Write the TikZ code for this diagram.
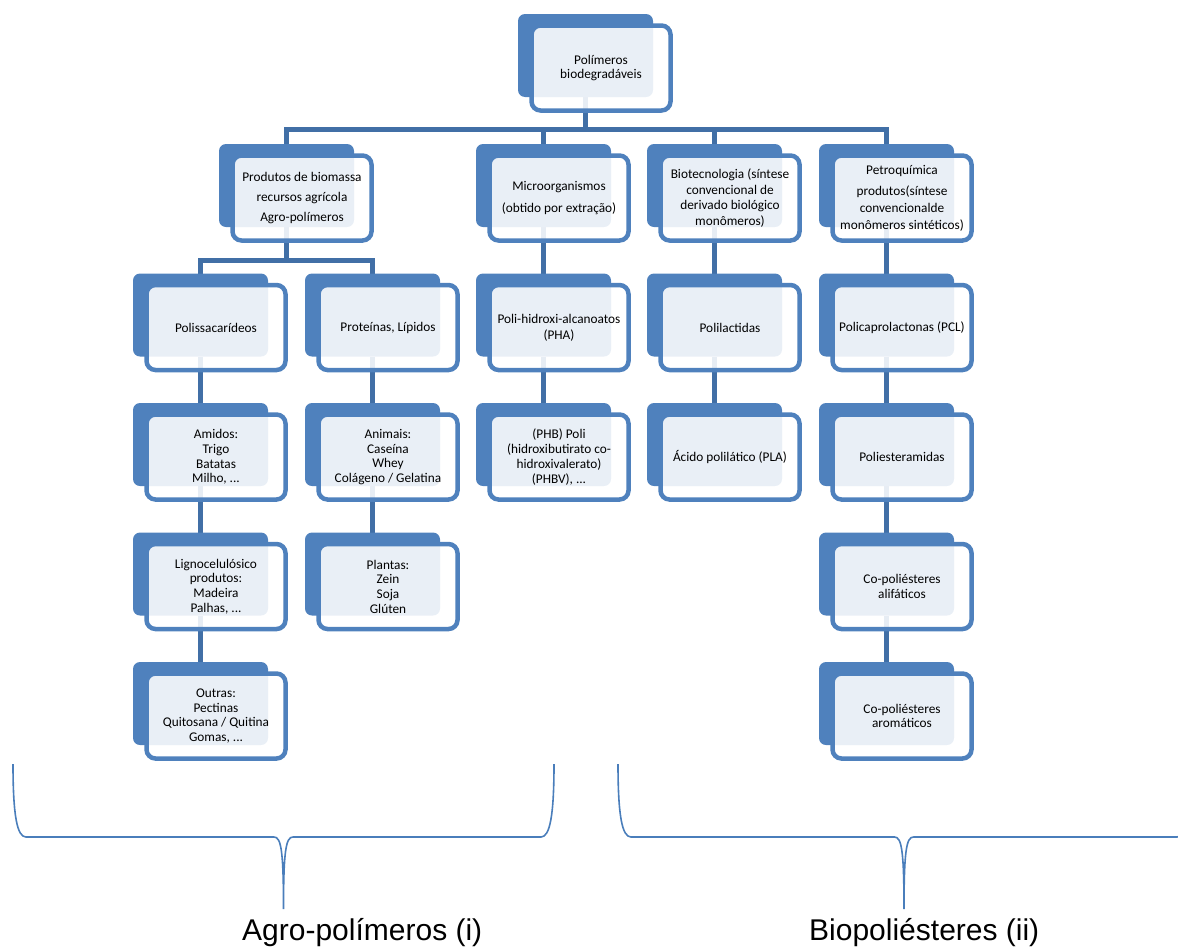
\documentclass[tikz,border=0pt]{standalone}
\usepackage{fontspec}
\setmainfont{Carlito}
\newfontfamily\rotulofont{Liberation Sans}
\usepackage{xcolor}
\usetikzlibrary{positioning, backgrounds}

\definecolor{azulcaixa}{HTML}{4F81BD}
\definecolor{azulliga}{HTML}{416FA6}
\definecolor{azulchave}{HTML}{4A7EBB}

% caixa dupla: fundo azul + frente translucida com o texto
\newcommand{\caixa}[3]{%
  \node[fundo, #2] (#1-f) {};
  \node[frente, xshift=15.5pt, yshift=-12.5pt] (#1) at (#1-f.center) {#3};
}

\begin{document}
\begin{tikzpicture}[
    x=1pt, y=1pt,
    node distance=46.5pt,
    fundo/.style={fill=azulcaixa, rounded corners=7pt, minimum width=135pt, minimum height=83pt, inner sep=0pt, outer sep=0pt},
    frente/.style={draw=azulcaixa, line width=4.5pt, fill=white, fill opacity=0.88, text opacity=1, rounded corners=9pt, minimum width=139pt, minimum height=85pt, inner sep=0pt, align=center, font=\fontsize{13.3}{14.7}\selectfont},
    liga/.style={draw=azulliga, line width=5pt},
    chave/.style={draw=azulchave, line width=1.6pt},
    rotulo/.style={font=\rotulofont\fontsize{30}{36}\selectfont, inner sep=0pt, anchor=base west}
]
    \useasboundingbox (0,0) rectangle (1178,-948);

    % Topo
    \caixa{topo}{at={(585.5,-55.5)}}{Polímeros\\biodegradáveis}

    % Nivel 1
    \caixa{biomassa}{at={(286.5,-185.5)}}{Produtos de biomassa\\[5pt]recursos agrícola\\[5pt]Agro-polímeros}
    \caixa{micro}{at={(543.5,-185.5)}}{Microorganismos\\[7pt](obtido por extração)}
    \caixa{biotec}{at={(714.5,-185.5)}}{Biotecnologia (síntese\\[1pt]convencional de\\[1pt]derivado biológico\\[1pt]monômeros)}
    \caixa{petro}{at={(886.5,-185.5)}}{Petroquímica\\[7pt]produtos(síntese\\[2pt]convencionalde\\[2pt]monômeros sintéticos)}

    % Agro-polimeros
    \caixa{polis}{below=of biomassa-f, xshift=-86pt}{Polissacarídeos}
    \caixa{amidos}{below=of polis-f}{Amidos:\\Trigo\\Batatas\\Milho, ...}
    \caixa{ligno}{below=of amidos-f}{Lignocelulósico\\produtos:\\Madeira\\Palhas, ...}
    \caixa{outras}{below=of ligno-f}{Outras:\\Pectinas\\Quitosana / Quitina\\Gomas, ...}
    \caixa{proteinas}{below=of biomassa-f, xshift=86pt}{Proteínas, Lípidos}
    \caixa{animais}{below=of proteinas-f}{Animais:\\Caseína\\Whey\\Colágeno / Gelatina}
    \caixa{plantas}{below=of animais-f}{Plantas:\\Zein\\Soja\\Glúten}

    % Microorganismos
    \caixa{pha}{below=of micro-f}{Poli-hidroxi-alcanoatos\\[1pt](PHA)}
    \caixa{phb}{below=of pha-f}{(PHB) Poli\\(hidroxibutirato co-\\hidroxivalerato)\\(PHBV), ...}

    % Biotecnologia
    \caixa{polilac}{below=of biotec-f}{Polilactidas}
    \caixa{pla}{below=of polilac-f}{Ácido polilático (PLA)}

    % Petroquimica
    \caixa{pcl}{below=of petro-f}{Policaprolactonas (PCL)}
    \caixa{poliest}{below=of pcl-f}{Poliesteramidas}
    \caixa{alif}{below=of poliest-f}{Co-poliésteres\\alifáticos}
    \caixa{arom}{below=of alif-f}{Co-poliésteres\\aromáticos}

    % Ligacoes
    \begin{scope}[on background layer]
        \foreach \c in {biomassa, micro, biotec, petro}
            \draw[liga] (topo-f.south) -- ++(0,-32) -| (\c-f.north);
        \foreach \c in {polis, proteinas}
            \draw[liga] (biomassa-f.south) -- ++(0,-33) -| (\c-f.north);
        \foreach \a/\b in {polis/amidos, amidos/ligno, ligno/outras, proteinas/animais, animais/plantas,
                           micro/pha, pha/phb, biotec/polilac, polilac/pla,
                           petro/pcl, pcl/poliest, poliest/alif, alif/arom}
            \draw[liga] (\a-f.south) -- (\b-f.north);
    \end{scope}

    % Chaves
    \draw[chave] (13,-764) .. controls (13,-815) and (17,-837) .. (26,-837) -- (274,-837)
        .. controls (281,-837) and (283.5,-850) .. (283.5,-909)
        .. controls (283.5,-850) and (286,-837) .. (293,-837) -- (541,-837)
        .. controls (550,-837) and (554,-815) .. (554,-764);
    \draw[chave] (618,-764) .. controls (618,-815) and (622,-837) .. (631,-837) -- (894.5,-837)
        .. controls (901.5,-837) and (904,-850) .. (904,-909)
        .. controls (904,-850) and (906.5,-837) .. (913.5,-837) -- (1177,-837)
        .. controls (1186,-837) and (1190,-815) .. (1190,-764);

    % Rotulos
    \node[rotulo] (agro) at (242,-940) {Agro-polímeros (i)};
    \node[rotulo] (biopol) at (809,-940) {Biopoliésteres (ii)};
\end{tikzpicture}
\end{document}
